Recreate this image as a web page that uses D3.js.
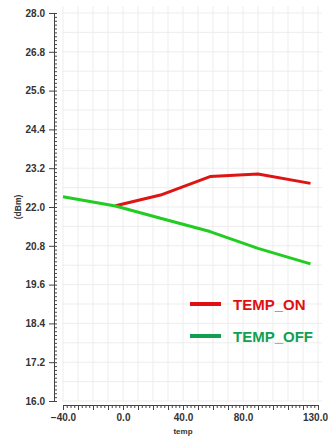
<!DOCTYPE html>
<html><head><meta charset="utf-8">
<script src="https://cdn.jsdelivr.net/npm/d3@7"></script>
<style>
body{margin:0;background:#fff}
svg{display:block}
.ax text{font-family:'Liberation Sans',Arial,sans-serif;font-weight:bold;font-size:10px;fill:#333}
.ax path,.ax line{stroke:#444}
</style></head>
<body><div id="chart"></div>
<script>
// values
const onTemp  = [-5, 25, 58, 90, 125];
const onVal   = [22.04, 22.37, 22.94, 23.02, 22.73];
const offTemp = [-40, -5, 25, 58, 90, 125];
const offVal  = [22.32, 22.03, 21.65, 21.24, 20.72, 20.24];
const xTicks  = [-40, 0, 40, 80, 130];
const yTicks  = [16.0, 17.2, 18.4, 19.6, 20.8, 22.0, 23.2, 24.4, 25.6, 26.8, 28.0];
const series  = [
  {name:'TEMP_ON',  xs:onTemp,  ys:onVal,  line:'#dd1515', key:'#e01010', txt:'#e01010'},
  {name:'TEMP_OFF', xs:offTemp, ys:offVal, line:'#22cc22', key:'#10a050', txt:'#10a050'}
];

const W=329,H=436;
const svg=d3.select('#chart').append('svg').attr('width',W).attr('height',H);
const x=d3.scaleLinear().domain([-40,130]).range([63,318]);
const y=d3.scaleLinear().domain([16,28]).range([401,13]);

// grid
const grid=svg.append('g').attr('stroke','#ededed').attr('stroke-width',1);
d3.range(-40,131,10).forEach(v=>grid.append('line')
  .attr('x1',x(v)).attr('x2',x(v)).attr('y1',6).attr('y2',401));
d3.range(0,21).map(i=>16+i*0.6).forEach(v=>grid.append('line')
  .attr('x1',62).attr('x2',322).attr('y1',y(v)).attr('y2',y(v)));

// y axis: majors with labels, minor ladder on the right
const ax0=54;
svg.append('g').attr('class','ax').attr('transform',`translate(${ax0},0)`)
  .call(d3.axisLeft(y).tickValues(yTicks).tickSize(5).tickPadding(4).tickFormat(d3.format('.1f')));
svg.append('g').attr('class','ax').attr('transform',`translate(${ax0},0)`)
  .call(d3.axisRight(y).tickValues(d3.range(0,101).map(i=>16+i*0.12)).tickSize(3).tickFormat(''))
  .call(g=>g.select('.domain').remove());

// x axis
const xy=405;
svg.append('g').attr('class','ax').attr('transform',`translate(0,${xy})`)
  .call(d3.axisBottom(x).tickValues(d3.range(0,69).map(i=>-40+i*2.5)).tickSize(3).tickFormat('').tickSizeOuter(0));
svg.append('g').attr('class','ax').attr('transform',`translate(0,${xy})`)
  .call(d3.axisBottom(x).tickValues(d3.range(-40,131,10)).tickSize(5).tickFormat('').tickSizeOuter(0))
  .call(g=>g.select('.domain').remove());
svg.append('g').attr('class','ax').attr('transform',`translate(0,${xy})`)
  .call(d3.axisBottom(x).tickValues(xTicks).tickSize(0).tickPadding(9).tickFormat(d3.format('.1f')))
  .call(g=>g.select('.domain').remove())
  .call(g=>g.selectAll('.tick text').filter(d=>d===130).attr('dx',-3));

// axis titles
svg.append('text').attr('x',183).attr('y',434).attr('text-anchor','middle')
  .style('font',"bold 8px 'Liberation Sans',Arial,sans-serif").attr('fill','#333').text('temp');
svg.append('text').attr('transform','translate(21,207) rotate(-90)').attr('text-anchor','middle')
  .style('font',"bold 8.5px 'Liberation Sans',Arial,sans-serif").attr('fill','#333').text('(dBm)');

// lines
const line=d3.line().x(d=>x(d[0])).y(d=>y(d[1]));
series.forEach(s=>{
  svg.append('path').datum(s.xs.map((v,i)=>[v,s.ys[i]]))
    .attr('d',line).attr('fill','none').attr('stroke',s.line).attr('stroke-width',3)
    .attr('stroke-linejoin','round');
});

// legend
series.forEach((s,i)=>{
  const ly=304+i*32;
  svg.append('line').attr('x1',190).attr('x2',221).attr('y1',ly).attr('y2',ly)
    .attr('stroke',s.key).attr('stroke-width',4);
  svg.append('text').attr('x',233).attr('y',ly+5.5)
    .style('font',"bold 15px 'Liberation Sans',Arial,sans-serif").attr('fill',s.txt).text(s.name);
});
</script></body></html>
